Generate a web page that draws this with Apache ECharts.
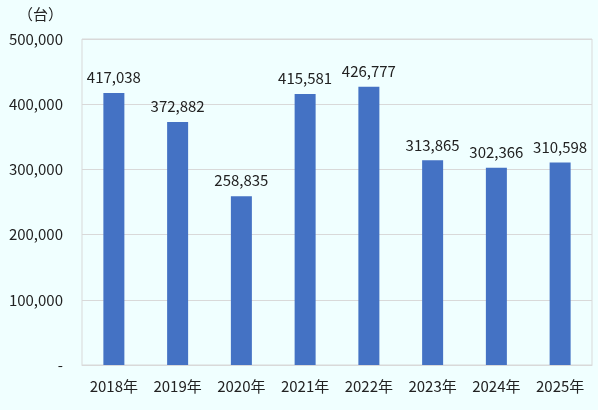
<!DOCTYPE html>
<html>
<head>
<meta charset="utf-8">
<script src="https://cdn.jsdelivr.net/npm/echarts@6/dist/echarts.min.js"></script>
<style>
  html, body { margin: 0; padding: 0; background: #f0ffff; }
  #chart { width: 598px; height: 410px; }
</style>
</head>
<body>
<div id="chart"></div>
<script>
// data
var years = ["2018年", "2019年", "2020年", "2021年", "2022年", "2023年", "2024年", "2025年"];
var units = [417038, 372882, 258835, 415581, 426777, 313865, 302366, 310598];
var unitLabel = "（台）";

var fontFamily = '"Noto Sans CJK JP", "Noto Sans", sans-serif';
var chart = echarts.init(document.getElementById("chart"));

chart.setOption({
  animation: false,
  backgroundColor: "#f0ffff",
  textStyle: { fontFamily: fontFamily },
  graphic: [{
    type: "text",
    left: 18,
    top: 7,
    style: { text: unitLabel, fontSize: 15, fill: "#222", fontFamily: fontFamily }
  }],
  grid: {
    left: 82, right: 6, top: 39, bottom: 45,
    show: true,
    borderColor: "#d9d9d9",
    borderWidth: 1
  },
  xAxis: {
    type: "category",
    data: years,
    axisLine: { lineStyle: { color: "#d9d9d9" } },
    axisTick: { show: false },
    axisLabel: { color: "#222", fontSize: 15, margin: 14 }
  },
  yAxis: {
    type: "value",
    min: 0,
    max: 500000,
    interval: 100000,
    axisLine: { show: false },
    axisTick: { show: false },
    splitLine: { lineStyle: { color: "#d9d9d9" } },
    axisLabel: {
      color: "#222",
      fontSize: 15,
      margin: 19,
      formatter: function (v) { return v === 0 ? "-" : v.toLocaleString("en-US"); }
    }
  },
  series: [{
    type: "bar",
    data: units,
    barWidth: 21,
    itemStyle: { color: "#4472c4" },
    label: {
      show: true,
      position: "top",
      distance: 8,
      color: "#222",
      fontSize: 15,
      formatter: function (p) { return p.value.toLocaleString("en-US"); }
    }
  }]
});
</script>
</body>
</html>
